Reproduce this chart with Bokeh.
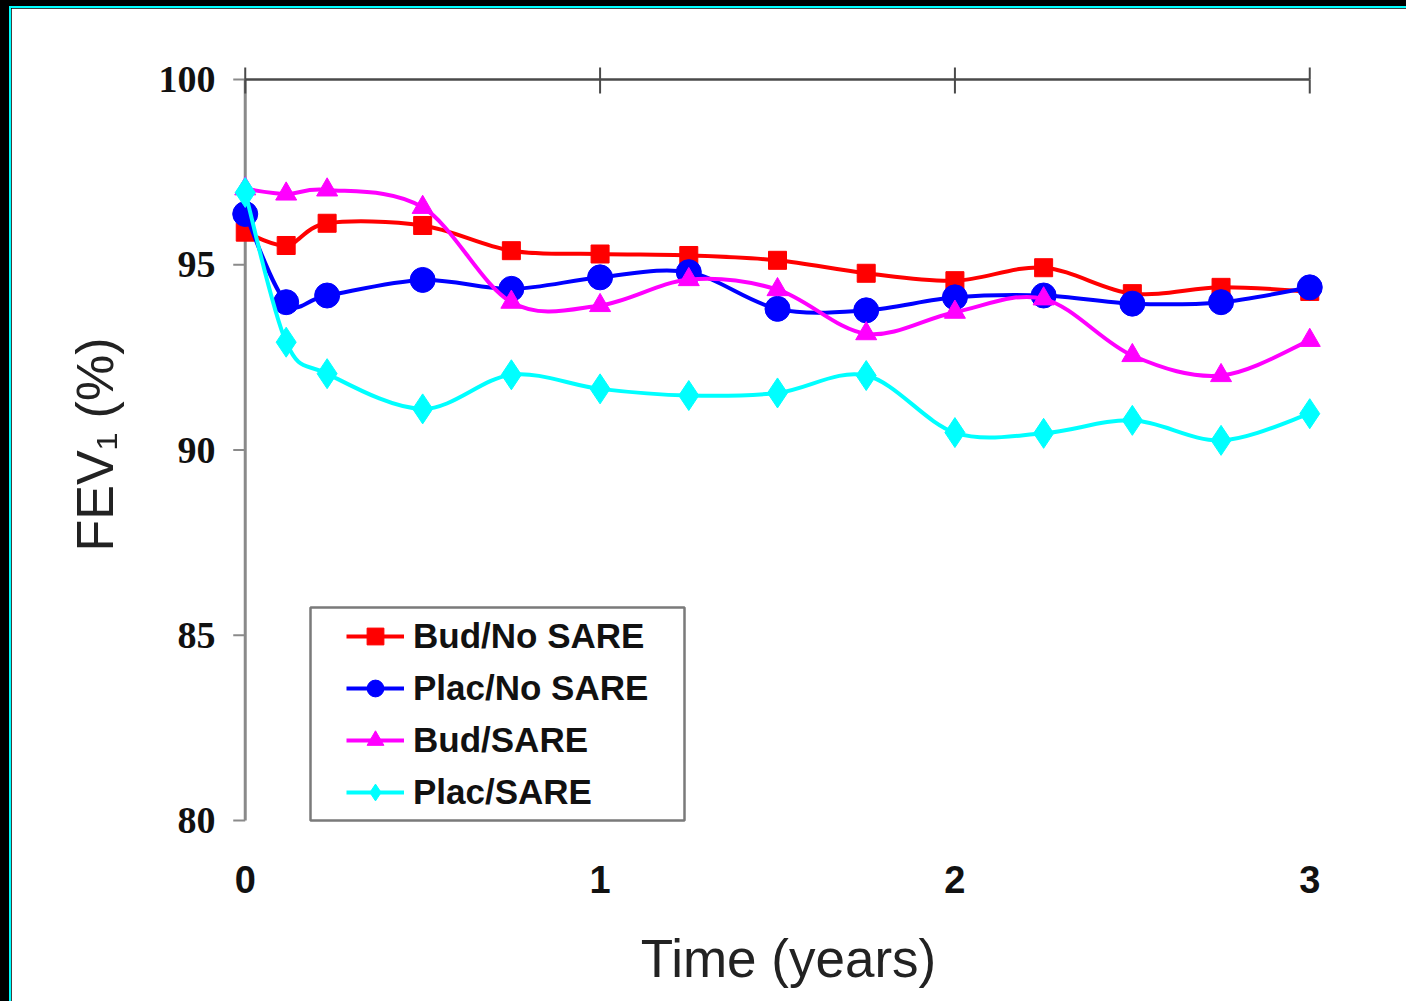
import math
from bokeh.plotting import figure
from bokeh.models import (Range1d, FixedTicker, LinearAxis, Legend, LegendItem,
                          BoxAnnotation, ColumnDataSource)
from bokeh.layouts import column
from bokeh.embed import file_html
from bokeh.resources import INLINE

# ---- data ----
weeks = [0, 6, 12, 26, 39, 52, 65, 78, 91, 104, 117, 130, 143, 156]
bud_no_sare = [95.88, 95.52, 96.12, 96.06, 95.38, 95.29, 95.25, 95.12, 94.77, 94.57, 94.92, 94.22, 94.39, 94.28]
plac_no_sare = [96.37, 93.99, 94.17, 94.59, 94.35, 94.66, 94.80, 93.81, 93.77, 94.12, 94.17, 93.95, 93.99, 94.39]
bud_sare = [97.05, 96.91, 97.02, 96.55, 93.99, 93.90, 94.60, 94.33, 93.14, 93.72, 94.08, 92.55, 92.01, 92.96]
plac_sare = [96.95, 92.91, 92.06, 91.11, 92.03, 91.65, 91.47, 91.54, 92.01, 90.47, 90.45, 90.80, 90.26, 90.98]
series_names = ["Bud/No SARE", "Plac/No SARE", "Bud/SARE", "Plac/SARE"]
x_ticks = [0, 1, 2, 3]
y_ticks = [80, 85, 90, 95, 100]

years = [w / 52 for w in weeks]

SANS = "Liberation Sans"
SERIF = "Liberation Serif"
AX_GREY = "#8a8a8a"
TOP_GREY = "#4a4a4a"

p = figure(width=1397, height=995, output_backend="svg", toolbar_location=None,
           tools="",
           x_range=Range1d(-0.05, 3.112), y_range=Range1d(79.514, 100.783),
           x_axis_location=None, y_axis_location=None,
           min_border_left=216, min_border_right=59,
           min_border_top=42, min_border_bottom=165,
           background_fill_color="white", border_fill_color="white",
           outline_line_color="white", outline_line_width=3, outline_line_alpha=1)
p.grid.visible = False

# left axis: labels only (the axis line is drawn at x = 0 below)
yaxis = LinearAxis(ticker=FixedTicker(ticks=y_ticks),
                   axis_line_color=None, major_tick_line_color=None,
                   minor_tick_line_color=None, major_tick_in=0, major_tick_out=0,
                   major_label_text_font=SERIF, major_label_text_font_style="bold",
                   major_label_text_font_size="38px", major_label_text_color="#111111",
                   major_label_standoff=12,
                   axis_label="FEV\u2081 (%)",
                   axis_label_text_font=SANS, axis_label_text_font_style="normal",
                   axis_label_text_font_size="52px", axis_label_text_color="#222222",
                   axis_label_standoff=32)
p.add_layout(yaxis, "left")

# bottom axis: labels only
bottomaxis = LinearAxis(ticker=FixedTicker(ticks=x_ticks),
                        axis_line_color=None, major_tick_line_color=None,
                        minor_tick_line_color=None, major_tick_in=0, major_tick_out=0,
                        major_label_text_font=SANS, major_label_text_font_style="bold",
                        major_label_text_font_size="38px", major_label_text_color="#111111",
                        major_label_standoff=27,
                        axis_label="Time (years)",
                        axis_label_text_font=SANS, axis_label_text_font_style="normal",
                        axis_label_text_font_size="53px", axis_label_text_color="#222222",
                        axis_label_standoff=33)
p.add_layout(bottomaxis, "below")

y_lo, y_hi = y_ticks[0], y_ticks[-1]
x_lo, x_hi = x_ticks[0], x_ticks[-1]

# axis lines and ticks
p.line(x=[x_lo, x_lo], y=[y_lo, y_hi], line_color=AX_GREY, line_width=3)
p.ray(x=[x_lo] * len(y_ticks), y=y_ticks, length=12, length_units="screen",
      angle=math.pi, line_color=AX_GREY, line_width=2)
p.line(x=[x_lo, x_hi], y=[y_hi, y_hi], line_color=TOP_GREY, line_width=2.5)
p.ray(x=x_ticks, y=[y_hi] * len(x_ticks), length=12, length_units="screen",
      angle=math.pi / 2, line_color=TOP_GREY, line_width=2)
p.ray(x=x_ticks, y=[y_hi] * len(x_ticks), length=14, length_units="screen",
      angle=-math.pi / 2, line_color=TOP_GREY, line_width=2)


def smooth(xs, ys):
    n = len(xs)
    d = dict(x0=[], y0=[], x1=[], y1=[], cx0=[], cy0=[], cx1=[], cy1=[])
    for i in range(n - 1):
        ip = max(i - 1, 0)
        inn = min(i + 2, n - 1)
        d["x0"].append(xs[i]); d["y0"].append(ys[i])
        d["x1"].append(xs[i + 1]); d["y1"].append(ys[i + 1])
        d["cx0"].append(xs[i] + (xs[i + 1] - xs[ip]) / 6)
        d["cy0"].append(ys[i] + (ys[i + 1] - ys[ip]) / 6)
        d["cx1"].append(xs[i + 1] - (xs[inn] - xs[i]) / 6)
        d["cy1"].append(ys[i + 1] - (ys[inn] - ys[i]) / 6)
    return ColumnDataSource(d)


styles = [
    (bud_no_sare, "#ff0000", "square", 18),
    (plac_no_sare, "#0000ff", "circle", 25),
    (bud_sare, "#ff00ff", "triangle", 21),
    (plac_sare, "#00ffff", "diamond", 30),
]

items = []
for name, (vals, color, marker, size) in zip(series_names, styles):
    b = p.bezier(x0="x0", y0="y0", x1="x1", y1="y1", cx0="cx0", cy0="cy0",
                 cx1="cx1", cy1="cy1", source=smooth(years, vals),
                 line_color=color, line_width=4)
    s = p.scatter(x=years, y=vals, marker=marker, size=size,
                  fill_color=color, line_color=color, line_width=1)
    items.append(LegendItem(label=name, renderers=[b, s]))

legend = Legend(items=items, location=(119, 25), orientation="vertical",
                glyph_width=58, glyph_height=42, label_height=40, spacing=10,
                label_standoff=9, padding=10, margin=0,
                label_text_font=SANS, label_text_font_style="bold",
                label_text_font_size="35px", label_text_color="#111111",
                border_line_color=None, background_fill_alpha=0)
p.add_layout(legend, "center")

box = BoxAnnotation(left=83, right=457, bottom=18, top=231,
                    left_units="screen", right_units="screen",
                    bottom_units="screen", top_units="screen",
                    fill_alpha=0, line_color="#7a7a7a", line_alpha=1.0,
                    line_width=2.5)
p.add_layout(box)

p.styles = {"border-top": "2px solid #00ffff", "border-left": "2px solid #00ffff"}
layout = column(p, styles={"background-color": "#000000",
                           "padding": "6px 0px 0px 9px"})

open("out.html", "w").write(file_html(layout, INLINE))
